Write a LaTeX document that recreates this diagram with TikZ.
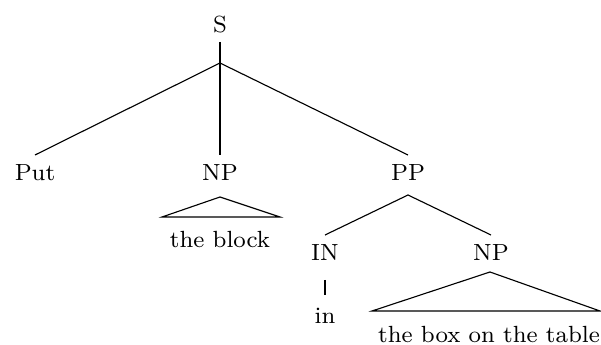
\documentclass[tikz,border=0pt]{standalone}
\begin{document}
\begin{tikzpicture}[x=0.4pt,y=-0.4pt,
  lbl/.style={inner sep=0pt, font=\fontsize{8}{9.6}\selectfont, scale=1.17},
  edge/.style={draw=black, line width=0.45pt}]
\useasboundingbox (0,0) rectangle (601,345);
% nodes
\node[lbl] (S) at (220,25) {S};
\coordinate (Stop) at (220,42);
\coordinate (Sfork) at (220,63);
\node[lbl] (Put) at (35,173) {Put};
\node[lbl] (NPa) at (220,173) {NP};
\node[lbl] (PP) at (408,173) {PP};
\node[lbl] (IN) at (325,253) {IN};
\node[lbl] (NPb) at (491,253) {NP};
\node[lbl] (in) at (325,316) {in};
\node[lbl] (blk) at (220,240) {the block};
\node[lbl] (box) at (489,334) {the box on the table};
% helper coordinates
\coordinate (PutT) at (35,155);
\coordinate (NPaT) at (220,155);
\coordinate (PPT) at (408,155);
\coordinate (PPB) at (408,195);
\coordinate (INT) at (325,235);
\coordinate (NPbT) at (491,235);
\coordinate (INB) at (325,280);
\coordinate (inT) at (325,295);
\coordinate (A1) at (220,197);
\coordinate (L1) at (162,217);
\coordinate (R1) at (280,217);
\coordinate (A2) at (490,272);
\coordinate (L2) at (372,311);
\coordinate (R2) at (600,311);
% edges
\draw[edge] (Stop) -- (Sfork);
\draw[edge] (Sfork) -- (PutT);
\draw[edge] (Sfork) -- (NPaT);
\draw[edge] (Sfork) -- (PPT);
\draw[edge] (PPB) -- (INT);
\draw[edge] (PPB) -- (NPbT);
\draw[edge] (INB) -- (inT);
\draw[edge] (A1) -- (L1) -- (R1) -- cycle;
\draw[edge] (A2) -- (L2) -- (R2) -- cycle;
\end{tikzpicture}
\end{document}
